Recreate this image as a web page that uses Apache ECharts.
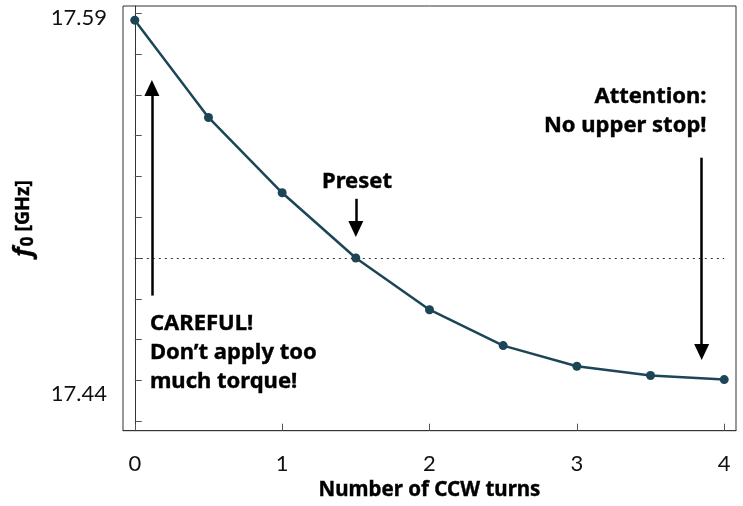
<!DOCTYPE html>
<html>
<head>
<meta charset="utf-8">
<script src="https://cdn.jsdelivr.net/npm/echarts@6/dist/echarts.min.js"></script>
<style>
  html, body { margin: 0; padding: 0; background: #fff; }
  #chart { width: 743px; height: 506px; }
</style>
</head>
<body>
<div id="chart"></div>
<script>
// turns vs resonance frequency
var turns = [0, 0.5, 1, 1.5, 2, 2.5, 3, 3.5, 4];
var freqGHz = [17.5875, 17.5517, 17.524, 17.5, 17.481, 17.4678, 17.4602, 17.4568, 17.4553];
var presetGHz = 17.5;

// axis ticks and labels
var xTicks = [0, 1, 2, 3, 4];
var yTicks = [17.59, 17.575, 17.56, 17.545, 17.53, 17.515, 17.5, 17.485, 17.47, 17.455, 17.44];
var yLabelAt = [17.5882, 17.45];
var yLabelText = ['17.59', '17.44'];

// annotations: [x, y, text]
var notes = [
  [1.508, 17.5282, 'Preset'],
  [0.1025, 17.465, 'CAREFUL!\nDon\u2019t apply too\nmuch torque!'],
  [3.88, 17.5539, 'Attention:\nNo upper stop!']
];
// arrows: x, shaft start, head
var arrowX = [0.116, 1.5, 3.847];
var arrowFrom = [17.4862, 17.5218, 17.5369];
var arrowTo = [17.5625, 17.5107, 17.4654];

var FONT = 'Lato';
var BOLD = 'Noto Sans';
var lineColor = '#1c4657';

var arrowData = arrowX.map(function (x, i) {
  return [
    { coord: [x, arrowFrom[i]], symbol: 'none' },
    { coord: [x, arrowTo[i]], symbol: 'triangle', symbolSize: [15, 16] }
  ];
});

var noteLabel = [
  { position: 'inside', align: 'center' },
  { position: 'right', distance: 0, align: 'left' },
  { position: 'left', distance: 0, align: 'right' }
];

var heavy = { color: '#000', textBorderColor: '#000', textBorderWidth: 0.4, opacity: 1 };

var chart = echarts.init(document.getElementById('chart'));
chart.setOption({
  animation: false,
  grid: {
    left: 123, right: 7, top: 6, bottom: 69,
    show: true, borderColor: '#333', borderWidth: 1, backgroundColor: '#fff'
  },
  xAxis: {
    type: 'value',
    min: -0.08, max: 4.08,
    name: 'Number of CCW turns',
    nameLocation: 'middle',
    nameGap: 48,
    nameTextStyle: Object.assign({ fontFamily: BOLD, fontWeight: 'bold', fontSize: 20.5 }, heavy),
    axisLine: { lineStyle: { color: '#333', width: 1 } },
    axisTick: { inside: true, length: 7, customValues: xTicks, lineStyle: { color: '#555' } },
    axisLabel: { customValues: xTicks, margin: 22, fontFamily: FONT, fontSize: 22, color: '#111' },
    splitLine: { show: false }
  },
  yAxis: {
    type: 'value',
    min: 17.4365, max: 17.5927,
    name: '{f|f}{s|0}{u| [GHz]}',
    nameLocation: 'middle',
    nameGap: 86,
    nameRotate: 90,
    nameTextStyle: {
      color: '#000',
      rich: {
        f: Object.assign({ fontFamily: BOLD, fontWeight: 'bold', fontStyle: 'italic', fontSize: 25 }, heavy),
        s: Object.assign({ fontFamily: BOLD, fontWeight: 'bold', fontSize: 17, padding: [10, 0, 0, 1] }, heavy),
        u: Object.assign({ fontFamily: BOLD, fontWeight: 'bold', fontSize: 19.5 }, heavy)
      }
    },
    axisLine: { show: true, lineStyle: { color: '#333', width: 1 } },
    axisTick: { show: true, inside: true, length: 7, customValues: yTicks, lineStyle: { color: '#555' } },
    axisLabel: {
      customValues: yLabelAt,
      margin: 16,
      fontFamily: FONT, fontSize: 22, color: '#111',
      formatter: function (v) {
        var best = 0;
        for (var i = 1; i < yLabelAt.length; i++) {
          if (Math.abs(yLabelAt[i] - v) < Math.abs(yLabelAt[best] - v)) best = i;
        }
        return yLabelText[best];
      }
    },
    splitLine: { show: false }
  },
  series: [
    {
      type: 'line',
      data: turns.map(function (t, i) { return [t, freqGHz[i]]; }),
      symbol: 'circle',
      symbolSize: 9,
      lineStyle: { color: lineColor, width: 2.5 },
      itemStyle: { color: lineColor },
      z: 3,
      markLine: {
        silent: true,
        symbol: ['none', 'none'],
        label: { show: false },
        lineStyle: { color: '#333', width: 1, type: [2, 4] },
        data: [[{ coord: [turns[0], presetGHz] }, { coord: [turns[turns.length - 1], presetGHz] }]]
      }
    },
    {
      type: 'scatter',
      data: notes.map(function (n, i) {
        return { value: [n[0], n[1]], label: noteLabel[i] };
      }),
      symbolSize: 0,
      silent: true,
      z: 4,
      itemStyle: { opacity: 1 },
      label: Object.assign({
        show: true,
        fontFamily: BOLD, fontWeight: 'bold', fontSize: 22, lineHeight: 29,
        formatter: function (p) { return notes[p.dataIndex][2]; }
      }, heavy),
      emphasis: { disabled: true },
      markLine: {
        silent: true,
        label: { show: false },
        lineStyle: { color: '#000', width: 2.5, type: 'solid' },
        itemStyle: { color: '#000' },
        data: arrowData
      }
    }
  ]
});
</script>
</body>
</html>
